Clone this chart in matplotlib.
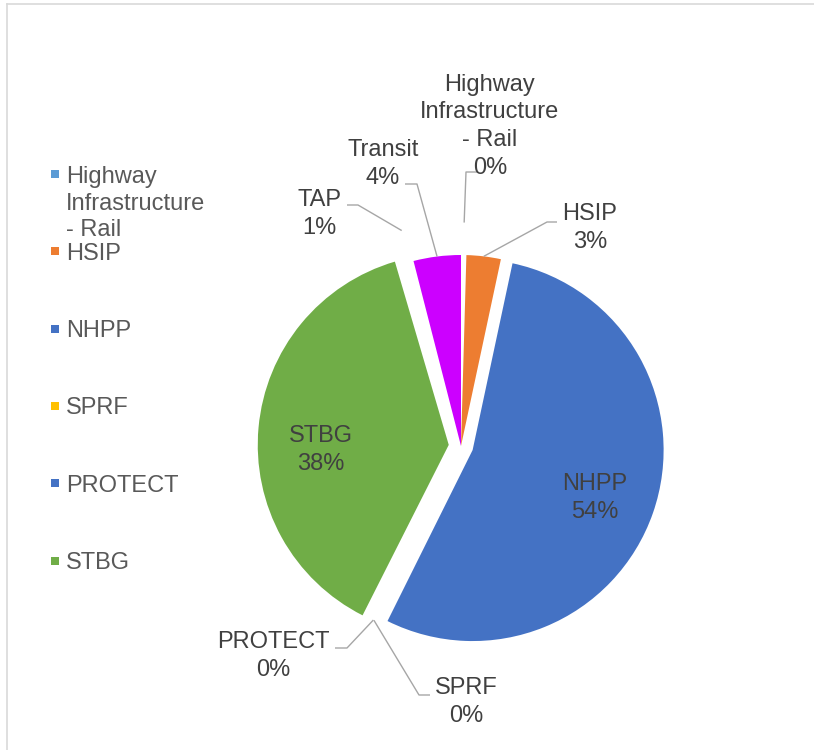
import math
import matplotlib.pyplot as plt
from matplotlib.lines import Line2D

plt.rcParams['font.family'] = ['Liberation Sans', 'DejaVu Sans']

# Program shares (percent), clockwise from 12 o'clock
programs = ['Highway\nInfrastructure\n- Rail', 'HSIP', 'NHPP', 'SPRF', 'PROTECT', 'STBG', 'TAP', 'Transit']
shares = [0.45, 2.9, 54.0, 0.05, 0.05, 38.0, 0.55, 4.0]
colors = ['#5B9BD5', '#ED7D31', '#4472C4', '#FFC000', '#4472C4', '#70AD47', '#A5A5A5', '#CC00FF']
# tiny slices show up only as gaps in the original
no_fill = ['Highway\nInfrastructure\n- Rail', 'SPRF', 'PROTECT', 'TAP']
exploded = ['NHPP', 'STBG']
legend_items = programs[:6]   # legend is cut off after STBG

W, H = 814, 750
def Y(y):
    return H - y

# label layout: x centre, cap centre of first line (image px)
label_pos = [(490, 82), (590, 212), (595, 482), (466, 686), (273, 639), (321, 433), (319, 197), (383, 147)]
lead_k = [1.17, 1.0, None, 1.02, 1.02, None, 1.17, 1.0]
elbows = [(466, 172, 12), (547, 222, 10), None, (419, 695, 11), (347, 648, -12), None, (358, 205, -11), (417, 184, -12)]

FS = 17
LINE = 28
TXT = '#404040'
LEAD = '#A6A6A6'

fig = plt.figure(figsize=(W / 100, H / 100), dpi=100)
ax = fig.add_axes([0, 0, 1, 1])

cx, cy, R, gap = 461, Y(446), 191, 12.3
face = ['white' if p in no_fill else c for p, c in zip(programs, colors)]
expl = [gap if p in exploded else 0 for p in programs]
wedges, _ = ax.pie(shares, colors=face, startangle=90, counterclock=False,
                   radius=R, center=(cx, cy), explode=expl,
                   wedgeprops=dict(linewidth=0))
ax.set_xlim(0, W)
ax.set_ylim(0, H)
ax.axis('off')

def draw_lines(x, y_cap, lines, color, ha='center'):
    for j, s in enumerate(lines):
        ax.text(x, Y(y_cap + j * LINE + 0.36 * FS * 100 / 72), s, fontsize=FS,
                color=color, ha=ha, va='baseline')

for i, (name, s) in enumerate(zip(programs, shares)):
    lines = name.split('\n') + [f'{round(s)}%']
    x, y = label_pos[i]
    draw_lines(x, y, lines, TXT)
    if lead_k[i] is None:
        continue
    w = wedges[i]
    t = math.radians((w.theta1 + w.theta2) / 2)
    sx = w.center[0] + lead_k[i] * w.r * math.cos(t)
    sy = w.center[1] + lead_k[i] * w.r * math.sin(t)
    ex, ey, tail = elbows[i]
    ax.plot([sx, ex, ex + tail], [sy, Y(ey), Y(ey)], color=LEAD, lw=1.0,
            solid_capstyle='butt')

# legend
for i, name in enumerate(legend_items):
    ly = 174 + i * 77.3
    ax.plot([54.5], [Y(ly)], marker='s', ms=5.2, color=colors[i], mew=0)
    lines = name.split('\n')
    for j, s in enumerate(lines):
        ax.text(66, Y(ly + j * 27), s, fontsize=FS, color='#595959',
                ha='left', va='center_baseline')

# chart area border
fig.add_artist(Line2D([7 / W, 1], [1 - 3.5 / H, 1 - 3.5 / H], color='#D9D9D9', lw=1.2))
fig.add_artist(Line2D([7 / W, 7 / W], [0, 1 - 3.5 / H], color='#D9D9D9', lw=1.2))

fig.savefig('out.png', dpi=100, facecolor='white')
